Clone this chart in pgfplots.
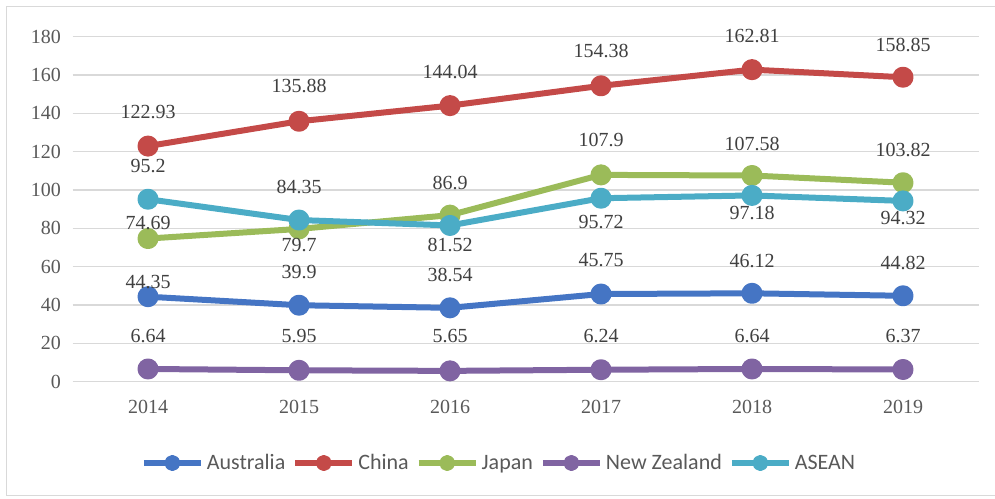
\documentclass[border=0pt]{standalone}
\usepackage{fontspec}
\setmainfont{Liberation Serif}
\newfontfamily\legfont{Carlito}
\usepackage{pgfplots}
\usepackage{pgfplotstable}
\pgfplotsset{compat=1.18}

\definecolor{cAus}{HTML}{4575C4}
\definecolor{cChn}{HTML}{C44A48}
\definecolor{cJpn}{HTML}{9BBB59}
\definecolor{cNzl}{HTML}{8064A2}
\definecolor{cAsn}{HTML}{4BACC6}
\definecolor{gridgray}{HTML}{D9D9D9}
\definecolor{ticktext}{HTML}{595959}
\definecolor{labtext}{HTML}{404040}

% year, value, label, label offset (pt above the point)
\pgfplotstableread{
x y lab dy
2014 44.35 44.35 15
2015 39.9 39.9 33
2016 38.54 38.54 33
2017 45.75 45.75 34
2018 46.12 46.12 32
2019 44.82 44.82 33
}\aus
\pgfplotstableread{
x y lab dy
2014 122.93 122.93 34
2015 135.88 135.88 35
2016 144.04 144.04 34
2017 154.38 154.38 35
2018 162.81 162.81 34
2019 158.85 158.85 32
}\chn
\pgfplotstableread{
x y lab dy
2014 74.69 74.69 16
2015 79.7 79.7 -16
2016 86.9 86.9 32
2017 107.9 107.9 35
2018 107.58 107.58 32
2019 103.82 103.82 33
}\jpn
\pgfplotstableread{
x y lab dy
2014 6.64 6.64 33
2015 5.95 5.95 34
2016 5.65 5.65 35
2017 6.24 6.24 34
2018 6.64 6.64 33
2019 6.37 6.37 33
}\nzl
\pgfplotstableread{
x y lab dy
2014 95.2 95.2 33
2015 84.35 84.35 33
2016 81.52 81.52 -20
2017 95.72 95.72 -24
2018 97.18 97.18 -18
2019 94.32 94.32 -17
}\asn

\begin{document}
\begin{tikzpicture}
\useasboundingbox (0pt,0pt) rectangle (995pt,498pt);
\draw[gridgray, line width=1pt] (1100pt,2.5pt) -- (6.5pt,2.5pt) -- (6.5pt,491pt) -- (1100pt,491pt);
\begin{axis}[
  scale only axis,
  width=906pt, height=345pt,
  at={(72.5pt,116.3pt)}, anchor=south west,
  xmin=2013.5, xmax=2019.5,
  ymin=0, ymax=180,
  xtick={2014,2015,2016,2017,2018,2019},
  ytick={0,20,...,180},
  ymajorgrids,
  grid style={gridgray, line width=1.3pt},
  axis line style={draw=none},
  tick style={draw=none},
  /pgf/number format/assume math mode=true,
  /pgf/number format/1000 sep={},
  tick label style={font=\fontsize{20}{24}\selectfont, text=ticktext},
  xticklabel style={yshift=-15pt},
  yticklabel style={xshift=-8pt},
  every axis plot/.append style={line width=6pt, line join=round,
    mark=*, mark size=7.5pt, mark options={solid}},
  nodes near coords,
  point meta=explicit symbolic,
  visualization depends on={\thisrow{dy}\as\dy},
  every node near coord/.append style={anchor=center, yshift=\dy pt,
    font=\fontsize{20}{24}\selectfont, text=labtext},
  legend columns=5,
  legend style={at={(0.4713,-0.2357)}, anchor=center, draw=none, fill=none,
    font=\legfont\fontsize{22}{26}\selectfont, text=ticktext,
    nodes={inner sep=3pt},
    /tikz/every even column/.append style={column sep=4pt}},
  legend image code/.code={\draw[mark repeat=2, mark phase=2, #1, mark size=5pt]
    plot coordinates {(0pt,0pt) (28.5pt,0pt) (57pt,0pt)};},
]
\addplot[cAus] table[x=x, y=y, meta=lab] {\aus};
\addlegendentry{Australia}
\addplot[cChn] table[x=x, y=y, meta=lab] {\chn};
\addlegendentry{China}
\addplot[cJpn] table[x=x, y=y, meta=lab] {\jpn};
\addlegendentry{Japan}
\addplot[cNzl] table[x=x, y=y, meta=lab] {\nzl};
\addlegendentry{New Zealand}
\addplot[cAsn] table[x=x, y=y, meta=lab] {\asn};
\addlegendentry{ASEAN}
\end{axis}
\end{tikzpicture}
\end{document}
